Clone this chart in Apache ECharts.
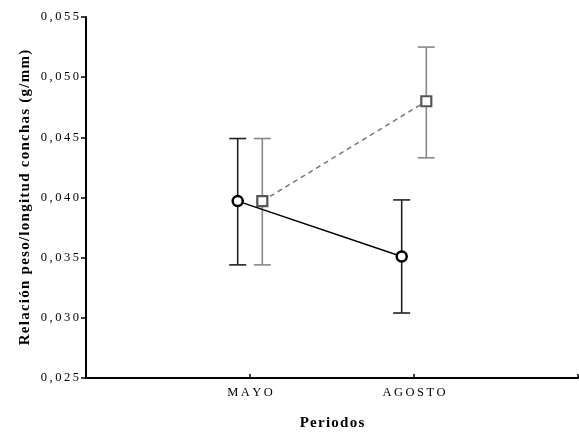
<!DOCTYPE html>
<html><head><meta charset="utf-8">
<script src="https://cdn.jsdelivr.net/npm/echarts@6/dist/echarts.min.js"></script>
<style>html,body{margin:0;padding:0;background:#fff}#c{width:579px;height:432px}</style>
</head><body><div id="c"></div>
<script>
var categories = ['MAYO', 'AGOSTO'];
var yTicks = [0.025, 0.030, 0.035, 0.040, 0.045, 0.050, 0.055];
var seriesA = { mean: [0.0397, 0.0351], low: [0.0344, 0.0304], high: [0.0449, 0.0398] };
var seriesB = { mean: [0.0397, 0.0480], low: [0.0344, 0.0433], high: [0.0449, 0.0525] };

var OFF = 0.075;
function spaced(s, sp) { return s.split('').join(sp); }
function pts(s, off) { return s.mean.map(function (v, i) { return [i + 1 + off, v]; }); }
function bars(s, off) { return s.mean.map(function (v, i) { return [i + 1 + off, s.low[i], s.high[i]]; }); }
function errRender(color) {
  return function (params, api) {
    var x = api.value(0);
    var lo = api.coord([x, api.value(1)]);
    var hi = api.coord([x, api.value(2)]);
    var w = 8.5;
    var st = { stroke: color, lineWidth: 1.6 };
    return { type: 'group', children: [
      { type: 'line', shape: { x1: lo[0], y1: lo[1], x2: hi[0], y2: hi[1] }, style: st },
      { type: 'line', shape: { x1: lo[0] - w, y1: lo[1], x2: lo[0] + w, y2: lo[1] }, style: st },
      { type: 'line', shape: { x1: hi[0] - w, y1: hi[1], x2: hi[0] + w, y2: hi[1] }, style: st }
    ]};
  };
}
var font = '"Liberation Serif", "DejaVu Serif", serif';
var chart = echarts.init(document.getElementById('c'));
chart.setOption({
  animation: false,
  backgroundColor: '#fff',
  grid: { left: 86, right: 1, top: 17, bottom: 54, containLabel: false, outerBoundsMode: 'none' },
  xAxis: {
    type: 'value', min: 0, max: categories.length + 1, interval: 1,
    name: spaced('Periodos', '\u200A'), nameLocation: 'middle', nameGap: 38,
    nameTextStyle: { fontFamily: font, fontWeight: 'bold', fontSize: 15, color: '#000' },
    axisLine: { lineStyle: { color: '#000', width: 2 } },
    axisTick: { inside: true, length: 4, lineStyle: { color: '#000', width: 1.5 } },
    splitLine: { show: false },
    axisLabel: { fontFamily: font, fontSize: 12.5, color: '#000', margin: 8,
      formatter: function (v) { return categories[v - 1] ? spaced(categories[v - 1], '\u2009') : ''; } }
  },
  yAxis: {
    type: 'value', min: yTicks[0], max: yTicks[yTicks.length - 1], interval: 0.005,
    name: spaced('Relación peso/longitud conchas (g/mm)', '\u200A'), nameLocation: 'middle', nameGap: 53,
    nameMoveOverlap: false,
    nameTextStyle: { fontFamily: font, fontWeight: 'bold', fontSize: 15, color: '#000' },
    axisLine: { show: true, lineStyle: { color: '#000', width: 2 } },
    axisTick: { show: true, length: 5, lineStyle: { color: '#000', width: 1.5 } },
    splitLine: { show: false },
    axisLabel: { fontFamily: font, fontSize: 12.5, color: '#000', margin: 7,
      formatter: function (v) { return spaced(v.toFixed(3).replace('.', ','), '\u2009'); } }
  },
  series: [
    { type: 'custom', renderItem: errRender('#222'), data: bars(seriesA, -OFF), z: 1 },
    { type: 'custom', renderItem: errRender('#888'), data: bars(seriesB, OFF), z: 1 },
    { type: 'line', data: pts(seriesB, OFF), symbol: 'rect', symbolSize: 10,
      lineStyle: { color: '#777', width: 1.5, type: [5, 4] },
      itemStyle: { color: '#fff', borderColor: '#555', borderWidth: 2.2 }, z: 3 },
    { type: 'line', data: pts(seriesA, -OFF), symbol: 'circle', symbolSize: 10,
      lineStyle: { color: '#000', width: 1.5 },
      itemStyle: { color: '#fff', borderColor: '#000', borderWidth: 2.5 }, z: 4 }
  ]
});
</script></body></html>
